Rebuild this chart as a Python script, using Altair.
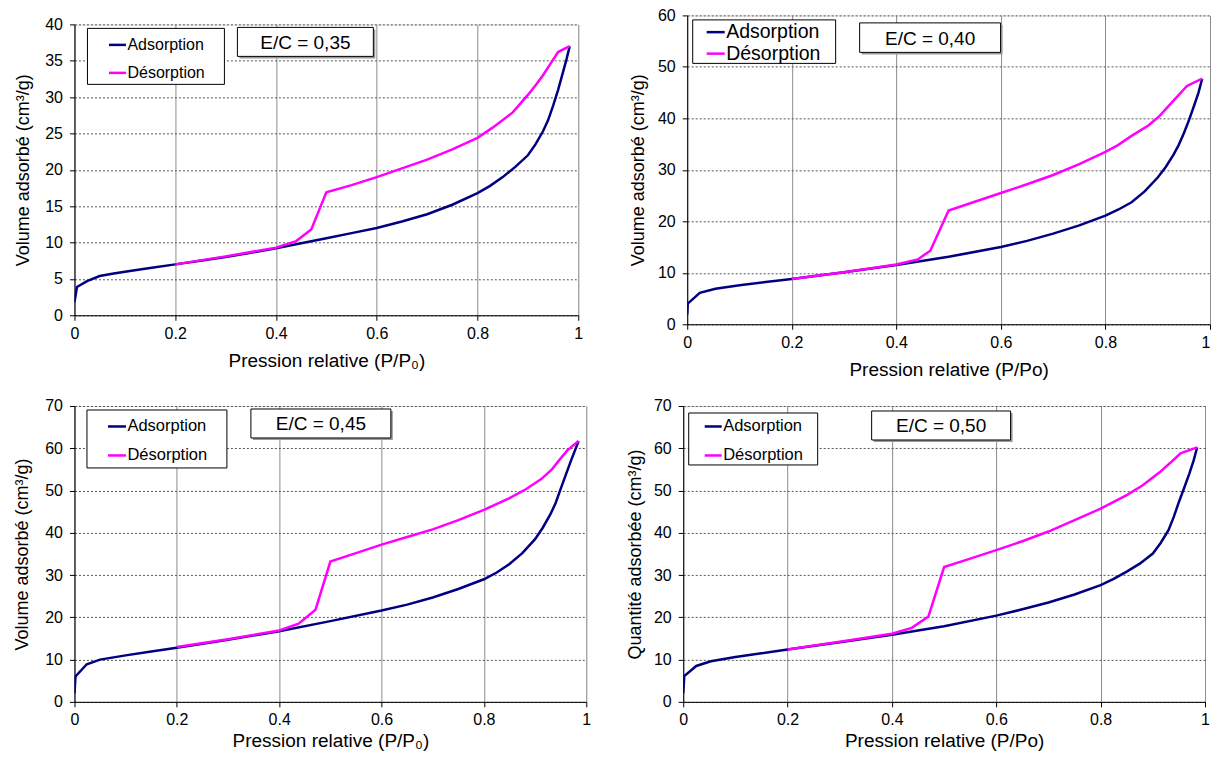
import altair as alt
import pandas as pd

SERIES = ["Adsorption", "Désorption"]
COLORS = ["#000080", "#FF00FF"]

# E/C = 0,35
p1_ads_x = [0, 0.005, 0.025, 0.05, 0.075, 0.1, 0.15, 0.2, 0.25, 0.3, 0.35, 0.4, 0.45, 0.5, 0.55, 0.6, 0.65, 0.7, 0.75, 0.8, 0.825, 0.85, 0.875, 0.9, 0.915, 0.93, 0.94, 0.95, 0.96, 0.97, 0.977, 0.983]
p1_ads_y = [1.8, 3.9, 4.7, 5.4, 5.7, 6.0, 6.5, 7.0, 7.5, 8.0, 8.6, 9.2, 9.9, 10.6, 11.3, 12.0, 12.9, 13.9, 15.2, 16.8, 17.8, 19.0, 20.4, 22.0, 23.5, 25.3, 26.8, 28.8, 31.0, 33.5, 35.3, 37.0]
p1_des_x = [0.983, 0.96, 0.945, 0.93, 0.915, 0.9, 0.87, 0.83, 0.8, 0.75, 0.7, 0.65, 0.6, 0.55, 0.5, 0.47, 0.44, 0.4, 0.3, 0.2]
p1_des_y = [37.0, 36.2, 34.6, 33.0, 31.6, 30.3, 27.9, 25.8, 24.4, 22.8, 21.4, 20.2, 19.0, 17.9, 16.9, 11.8, 10.2, 9.3, 8.1, 7.0]

# E/C = 0,40
p2_ads_x = [0, 0.001, 0.024, 0.054, 0.1, 0.15, 0.2, 0.3, 0.4, 0.5, 0.6, 0.65, 0.7, 0.75, 0.8, 0.825, 0.85, 0.875, 0.9, 0.915, 0.93, 0.94, 0.95, 0.96, 0.97, 0.978, 0.985]
p2_ads_y = [1.9, 4.0, 6.1, 6.9, 7.6, 8.2, 8.8, 10.1, 11.5, 13.1, 15.0, 16.2, 17.6, 19.2, 21.1, 22.3, 23.7, 25.8, 28.5, 30.5, 32.9, 34.8, 37.1, 39.7, 42.6, 45.0, 47.7]
p2_des_x = [0.985, 0.956, 0.928, 0.902, 0.882, 0.85, 0.824, 0.8, 0.75, 0.7, 0.65, 0.6, 0.55, 0.5, 0.465, 0.441, 0.4, 0.3, 0.2]
p2_des_y = [47.7, 46.3, 43.2, 40.3, 38.6, 36.6, 34.8, 33.5, 31.1, 29.0, 27.2, 25.5, 23.8, 22.1, 14.3, 12.6, 11.6, 10.1, 8.8]

# E/C = 0,45
p3_ads_x = [0, 0.002, 0.024, 0.05, 0.1, 0.15, 0.2, 0.3, 0.4, 0.5, 0.6, 0.65, 0.7, 0.75, 0.8, 0.825, 0.85, 0.875, 0.9, 0.915, 0.93, 0.94, 0.95, 0.96, 0.97, 0.978, 0.985]
p3_ads_y = [2.0, 6.0, 8.9, 10.0, 11.0, 11.9, 12.8, 14.7, 16.7, 19.1, 21.6, 23.0, 24.7, 26.7, 29.0, 30.6, 32.6, 35.2, 38.5, 41.2, 44.4, 47.0, 50.4, 53.7, 57.0, 59.5, 61.7]
p3_des_x = [0.985, 0.963, 0.948, 0.933, 0.912, 0.882, 0.85, 0.8, 0.75, 0.7, 0.65, 0.6, 0.55, 0.5, 0.471, 0.438, 0.4, 0.3, 0.2]
p3_des_y = [61.7, 59.5, 57.3, 55.0, 52.7, 50.3, 48.2, 45.4, 43.0, 40.8, 39.0, 37.2, 35.2, 33.2, 21.8, 18.5, 16.9, 14.8, 13.0]

# E/C = 0,50
p4_ads_x = [0, 0.002, 0.025, 0.053, 0.1, 0.15, 0.2, 0.3, 0.4, 0.5, 0.6, 0.65, 0.7, 0.75, 0.8, 0.825, 0.85, 0.875, 0.9, 0.915, 0.93, 0.94, 0.95, 0.96, 0.97, 0.978, 0.985]
p4_ads_y = [2.0, 6.1, 8.5, 9.6, 10.6, 11.5, 12.4, 14.1, 15.9, 17.9, 20.4, 21.9, 23.5, 25.4, 27.6, 29.1, 30.8, 32.7, 35.1, 37.6, 40.6, 43.7, 47.3, 50.6, 54.0, 57.0, 60.2]
p4_des_x = [0.985, 0.953, 0.933, 0.913, 0.88, 0.85, 0.8, 0.75, 0.7, 0.65, 0.6, 0.55, 0.5, 0.47, 0.438, 0.4, 0.3, 0.2]
p4_des_y = [60.2, 58.8, 56.5, 54.3, 51.2, 48.9, 45.7, 43.0, 40.3, 38.0, 35.9, 33.9, 31.9, 20.2, 17.5, 16.1, 14.2, 12.4]

labels = ["E/C = 0,35", "E/C = 0,40", "E/C = 0,45", "E/C = 0,50"]
x_titles = ["Pression relative (P/P₀)", "Pression relative (P/Po)",
            "Pression relative (P/P₀)", "Pression relative (P/Po)"]
y_titles = ["Volume adsorbé (cm³/g)", "Volume adsorbé (cm³/g)",
            "Volume adsorbé (cm³/g)", "Quantité adsorbée (cm³/g)"]
y_max = [40, 60, 70, 70]
y_step = [5, 10, 10, 10]
x_ticks = [0, 0.2, 0.4, 0.6, 0.8, 1]

FONT = "Liberation Sans"


def frame(ax, ay, dx, dy):
    rows = [{"x": v, "y": w, "s": SERIES[0], "o": i} for i, (v, w) in enumerate(zip(ax, ay))]
    rows += [{"x": v, "y": w, "s": SERIES[1], "o": i} for i, (v, w) in enumerate(zip(dx, dy))]
    return pd.DataFrame(rows)


def panel(df, idx, w, h, leg, legbox, box, lab_size, ytp, xtp, last_right=False):
    ymax = y_max[idx]
    yt = list(range(0, ymax + 1, y_step[idx]))
    xalign = ({"condition": {"test": "datum.value == 1", "value": "right"}, "value": "center"}
              if last_right else "center")
    lines = alt.Chart(df).mark_line(strokeWidth=2.5, clip=True).encode(
        x=alt.X("x:Q", scale=alt.Scale(domain=[0, 1], nice=False),
                axis=alt.Axis(values=x_ticks, format="~g", title=x_titles[idx],
                              grid=True, gridColor="#8c8c8c", gridWidth=1,
                              labelFontSize=16, titleFontSize=19, titleFontWeight="normal",
                              labelPadding=5, titlePadding=xtp, tickSize=5,
                              labelAlign=xalign,
                              domainColor="black", tickColor="black", labelColor="black",
                              titleColor="black", labelFlush=False)),
        y=alt.Y("y:Q", scale=alt.Scale(domain=[0, ymax], nice=False),
                axis=alt.Axis(values=yt, title=y_titles[idx], grid=True,
                              gridColor="#555555", gridDash=[2, 2], gridWidth=1,
                              labelFontSize=16, titleFontSize=18, titleFontWeight="normal",
                              labelPadding=7, titlePadding=ytp, tickSize=5,
                              domainColor="black", tickColor="black", labelColor="black",
                              titleColor="black")),
        color=alt.Color("s:N", scale=alt.Scale(domain=SERIES, range=COLORS),
                        legend=alt.Legend(orient="none", legendX=leg[0], legendY=leg[1],
                                          title=None, padding=0, symbolType="stroke",
                                          symbolSize=leg[2] ** 2, symbolStrokeWidth=2.5,
                                          labelFontSize=lab_size, rowPadding=leg[3],
                                          labelOffset=0, labelColor="black", labelFont=FONT)),
        order="o:Q",
    )
    tdf = pd.DataFrame({"t": [labels[idx]]})
    lx0, lx1, ly0, ly1 = legbox
    legrect = alt.Chart(tdf).mark_rect(fill="white", stroke="black", strokeWidth=1).encode(
        x=alt.value(lx0), x2=alt.value(lx1), y=alt.value(ly0), y2=alt.value(ly1))
    bx0, bx1, by0, by1 = box
    shadow = alt.Chart(tdf).mark_rect(fill="#9a9a9a").encode(
        x=alt.value(bx0 + 2), x2=alt.value(bx1 + 2), y=alt.value(by0 + 2), y2=alt.value(by1 + 2))
    rect = alt.Chart(tdf).mark_rect(fill="white", stroke="black", strokeWidth=1).encode(
        x=alt.value(bx0), x2=alt.value(bx1), y=alt.value(by0), y2=alt.value(by1))
    text = alt.Chart(tdf).mark_text(fontSize=19, font=FONT, color="black",
                                    align="center", baseline="middle").encode(
        text="t:N", x=alt.value((bx0 + bx1) / 2), y=alt.value((by0 + by1) / 2 + 1))
    return alt.layer(lines, legrect, shadow, rect, text).properties(width=w, height=h)


c1 = panel(frame(p1_ads_x, p1_ads_y, p1_des_x, p1_des_y), 0, 504, 291,
           (33, 10.5, 17, 10), (13, 150, 4, 60), (163, 299, 3, 32), 16, 12, 10)
c2 = panel(frame(p2_ads_x, p2_ads_y, p2_des_x, p2_des_y), 1, 523, 309,
           (18, 6.25, 18, 1.5), (5.5, 148.5, 4.5, 48), (172.5, 313.5, 7.5, 37), 19.5, 10, 10,
           last_right=True)
c3 = panel(frame(p3_ads_x, p3_ads_y, p3_des_x, p3_des_y), 2, 512, 296,
           (32, 10, 18, 10), (12.5, 152.5, 4, 62), (176.5, 316.5, 3, 32), 16.5, 13, 4)
c4 = panel(frame(p4_ads_x, p4_ads_y, p4_des_x, p4_des_y), 3, 522, 296,
           (20, 10.5, 17, 10), (5.5, 134.5, 7, 59), (188.5, 327.5, 5, 34), 16.5, 9, 4)

top = alt.hconcat(c1, c2, spacing=45, center=True).resolve_scale(color="independent").resolve_legend(color="independent")
bottom = alt.hconcat(c3, c4, spacing=34).resolve_scale(color="independent").resolve_legend(color="independent")

chart = alt.vconcat(top, bottom, spacing=17).resolve_scale(color="independent").resolve_legend(
    color="independent").properties(
    padding={"left": 4.5, "top": -2, "right": 0, "bottom": 0},
    background="white",
).configure_view(stroke=None).configure(font=FONT)

chart.save("out.html", embed_options={"renderer": "svg", "actions": False})
